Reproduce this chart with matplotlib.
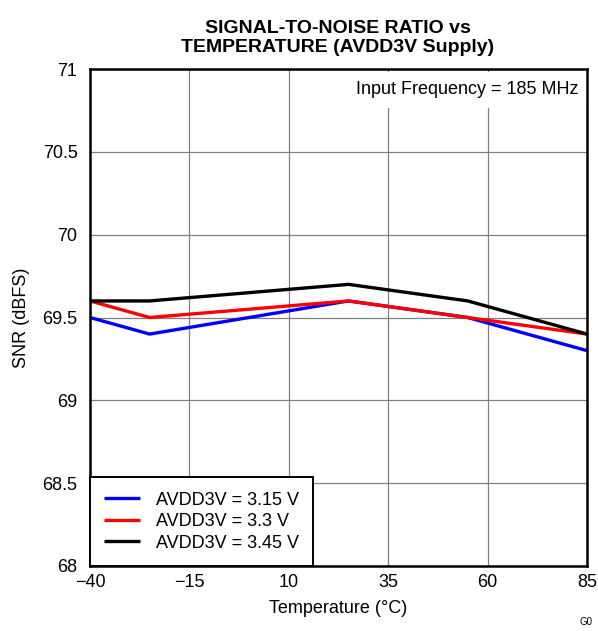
import matplotlib
matplotlib.use("Agg")
import matplotlib.pyplot as plt

plt.rcParams['font.family'] = ['Liberation Sans', 'DejaVu Sans']

temps = [-40, -25, 25, 55, 85]
snr_315 = [69.5, 69.4, 69.6, 69.5, 69.3]
snr_330 = [69.6, 69.5, 69.6, 69.5, 69.4]
snr_345 = [69.6, 69.6, 69.7, 69.6, 69.4]
labels = ["AVDD3V = 3.15 V", "AVDD3V = 3.3 V", "AVDD3V = 3.45 V"]
colors = ["#0000ff", "#ff0000", "#000000"]
xticks = [-40, -15, 10, 35, 60, 85]
xticklabels = ["\u221240", "\u221215", "10", "35", "60", "85"]
yticks = [68, 68.5, 69, 69.5, 70, 70.5, 71]
yticklabels = ["68", "68.5", "69", "69.5", "70", "70.5", "71"]

fig = plt.figure(figsize=(5.98, 6.31), dpi=100)
ax = fig.add_axes([90/598, 1-566/631, 497/598, 497/631])

for ys, lab, c in zip([snr_315, snr_330, snr_345], labels, colors):
    ax.plot(temps, ys, color=c, lw=2.4, label=lab, solid_capstyle='butt', zorder=3)

ax.set_xlim(-40, 85)
ax.set_ylim(68, 71)
ax.set_xticks(xticks)
ax.set_xticklabels(xticklabels)
ax.set_yticks(yticks)
ax.set_yticklabels(yticklabels)
ax.tick_params(axis='y', length=0, labelsize=13, pad=9)
ax.tick_params(axis='x', length=0, labelsize=13, pad=6)
ax.grid(True, color='#808080', lw=0.9, zorder=1)
for s in ax.spines.values():
    s.set_linewidth(1.8)
    s.set_zorder(5)

ax.set_xlabel("Temperature (\u00b0C)", fontsize=13, labelpad=6)
ax.set_ylabel("SNR (dBFS)", fontsize=13, labelpad=9)
fig.text(338/598, 1-38/631, "SIGNAL-TO-NOISE RATIO vs\nTEMPERATURE (AVDD3V Supply)",
         ha='center', va='center', fontsize=14, fontweight='bold', linespacing=1.1)

ax.text(0.982, 0.958, "Input Frequency = 185 MHz", transform=ax.transAxes,
        ha='right', va='center', fontsize=13,
        bbox=dict(facecolor='white', edgecolor='none', pad=7), zorder=4)

leg = ax.legend(loc='lower left', bbox_to_anchor=(0, 0), fontsize=13, frameon=True,
                fancybox=False, edgecolor='black', framealpha=1, handlelength=1.95,
                handletextpad=0.9, borderpad=0.8, labelspacing=0.25, borderaxespad=0)
leg.get_frame().set_linewidth(1.4)
leg.set_zorder(6)

fig.text(593/598, 1-622/631, "G0", ha='right', va='center', fontsize=7)

fig.savefig("out.png", dpi=100)
